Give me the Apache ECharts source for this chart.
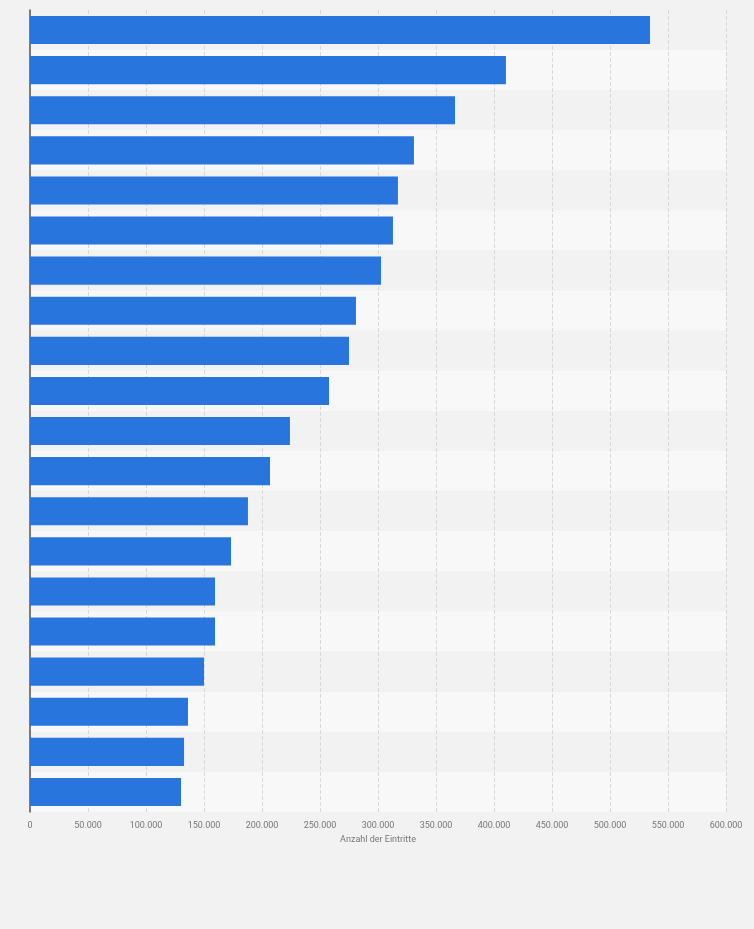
<!DOCTYPE html>
<html><head><meta charset="utf-8">
<script src="https://cdn.jsdelivr.net/npm/echarts@6/dist/echarts.min.js"></script>
<style>html,body{margin:0;padding:0;background:#f2f2f2}#c{width:754px;height:929px}</style>
</head><body><div id="c"></div>
<script>
const categories = Array.from({length:20},(_, i)=>'');
const values = [534500,410300,366400,331000,317200,312900,302600,281000,275000,257800,224100,206900,187900,173300,159500,159500,150000,136200,132800,130200];
const axisTitle = 'Anzahl der Eintritte';
const chart = echarts.init(document.getElementById('c'));
chart.setOption({
  backgroundColor:'#f2f2f2',
  animation:false,
  grid:{left:30,right:28,top:10,bottom:117},
  xAxis:{type:'value',min:0,max:600000,interval:50000,
    name:axisTitle,nameLocation:'middle',nameGap:20,
    nameTextStyle:{color:'#777',fontSize:9,fontFamily:'Roboto'},
    axisLabel:{color:'#777',fontSize:9,fontFamily:'Roboto',margin:9,
      formatter:v=>v.toString().replace(/\B(?=(\d{3})+(?!\d))/g,'.')},
    axisLine:{show:false},axisTick:{show:false},
    splitLine:{show:true,lineStyle:{color:'#d8d8d8',type:'dashed',width:1}}},
  yAxis:{type:'category',data:categories,inverse:true,
    axisLabel:{show:false},axisTick:{show:false},
    axisLine:{show:true,lineStyle:{color:'#555',width:1.5}},
    splitArea:{show:true,areaStyle:{color:['#f2f2f2','#f8f8f8']}}},
  series:[{type:'bar',data:values,barCategoryGap:'30%',
    itemStyle:{color:'#2876dd'}}]
});
</script></body></html>
